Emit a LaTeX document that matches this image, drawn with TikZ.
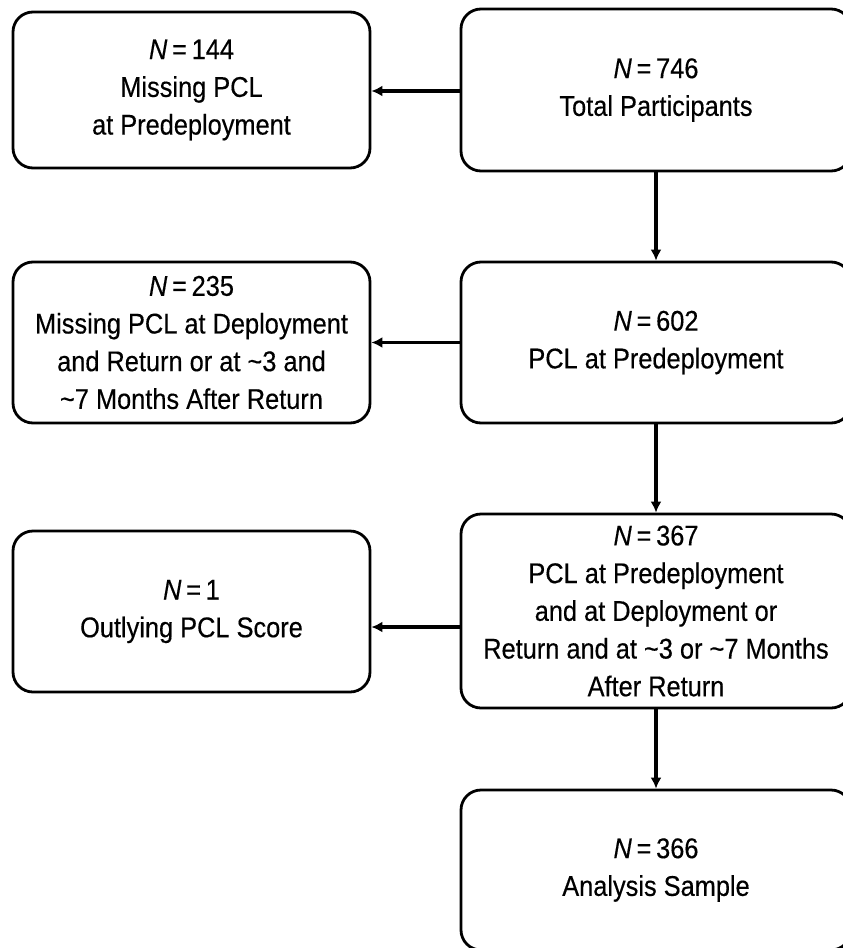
\documentclass[tikz,border=0pt]{standalone}
\usepackage{fontspec}
\setmainfont[FakeStretch=0.89,UprightFeatures={FakeBold=0.35},ItalicFeatures={FakeBold=0.35}]{Liberation Sans}
\usetikzlibrary{arrows.meta}
\tikzset{
  flowbox/.style={draw=black, line width=2.8pt, rounded corners=20pt, fill=white,
    align=center, inner sep=0pt, font=\fontsize{28.5}{37.7}\selectfont},
  leftbox/.style={flowbox, minimum width=357pt},
  rightbox/.style={flowbox, minimum width=390pt},
  flowarrow/.style={draw=black, line width=3.4pt, -{Latex[length=11pt,width=11pt]}}
}
\newcommand{\NN}[1]{\textit{N}\,=\,#1}
\begin{document}
\begin{tikzpicture}[x=1pt,y=-1pt]
\useasboundingbox (0,0) rectangle (843,948);
\fill[white] (0,0) rectangle (843,948);
\clip (0,0) rectangle (843,948);

\node[leftbox, minimum height=156pt] (l1) at (191.5,90)
  {\NN{144}\\Missing PCL\\at Predeployment};
\node[rightbox, minimum height=162pt] (r1) at (656,90)
  {\NN{746}\\Total Participants};

\node[leftbox, minimum height=161pt] (l2) at (191.5,342.5)
  {\NN{235}\\Missing PCL at Deployment\\and Return or at \textasciitilde3 and\\\textasciitilde7 Months After Return};
\node[rightbox, minimum height=161pt] (r2) at (656,342.5)
  {\NN{602}\\PCL at Predeployment};

\node[leftbox, minimum height=161pt] (l3) at (191.5,611.5)
  {\NN{1}\\Outlying PCL Score};
\node[rightbox, minimum height=194pt] (r3) at (656,611)
  {\NN{367}\\PCL at Predeployment\\and at Deployment or\\Return and at \textasciitilde3 or \textasciitilde7 Months\\After Return};

\node[rightbox, minimum height=160pt] (r4) at (656,870)
  {\NN{366}\\Analysis Sample};

\draw[flowarrow] ([yshift=-1pt]r1.west) -- ([yshift=-1pt]r1.west -| l1.east);
\draw[flowarrow] (r2.west) -- (l2.east);
\draw[flowarrow] ([yshift=-16pt]r3.west) -- ([yshift=-16pt]r3.west -| l3.east);

\draw[flowarrow] (r1.south) -- (r2.north);
\draw[flowarrow] (r2.south) -- (r3.north);
\draw[flowarrow] (r3.south) -- (r4.north);
\end{tikzpicture}
\end{document}
